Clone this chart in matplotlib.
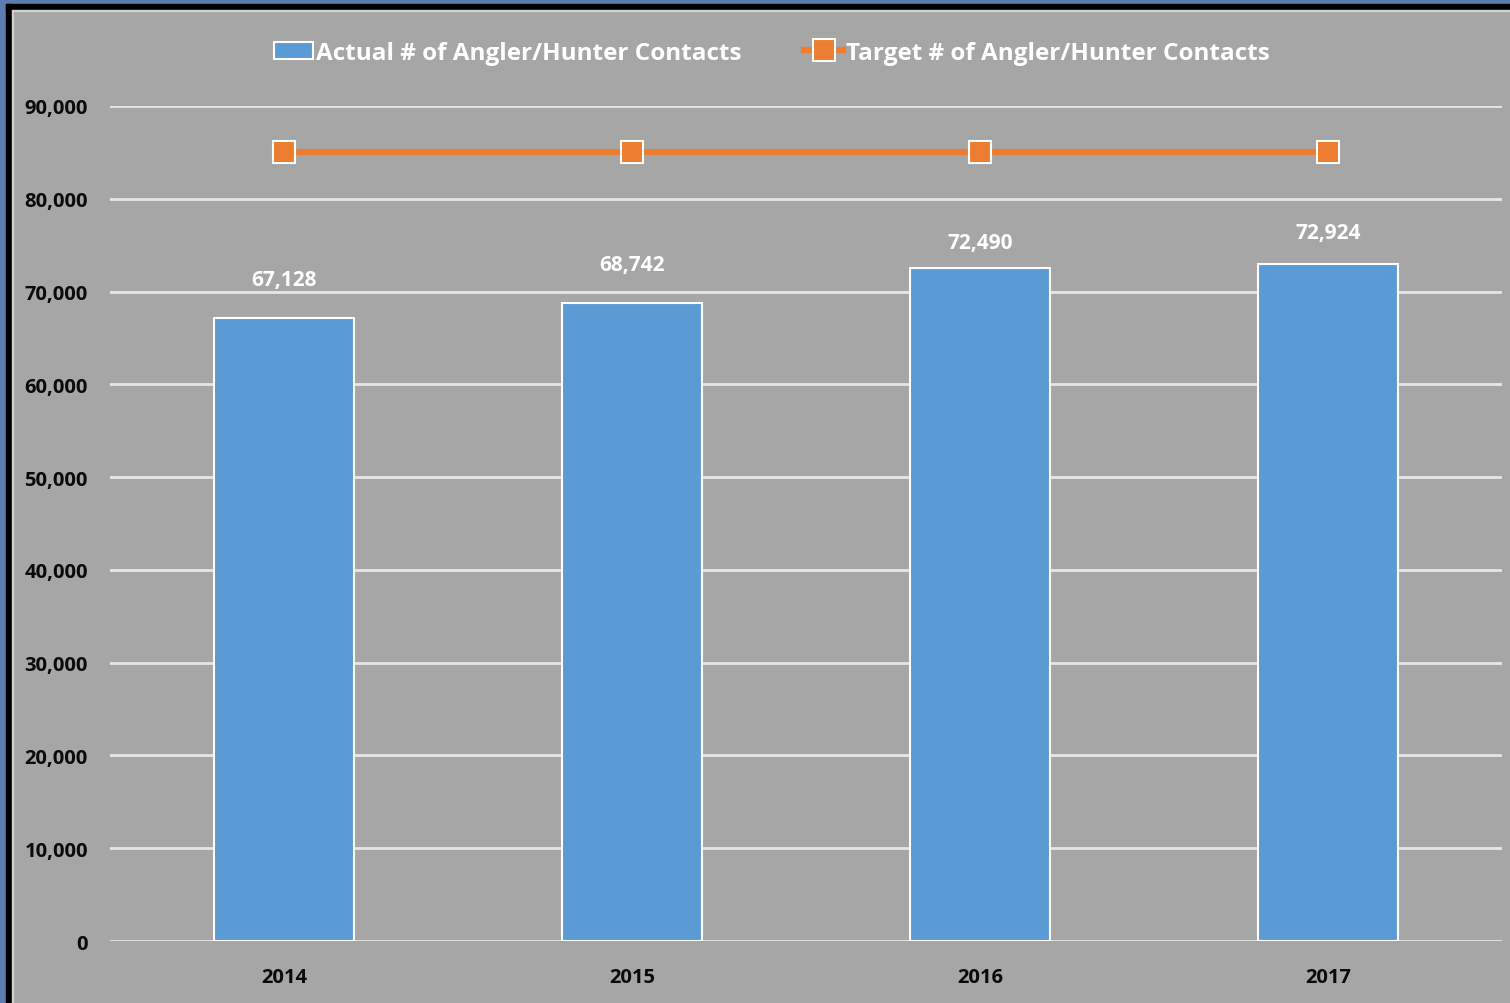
import matplotlib.pyplot as plt
from matplotlib.lines import Line2D
from matplotlib.patches import Patch, Rectangle
from matplotlib.ticker import FuncFormatter

# data
years = ['2014', '2015', '2016', '2017']
actual = [67128, 68742, 72490, 72924]
target = [85000, 85000, 85000, 85000]

# label offsets above bar tops (points), Excel nudges a few of them
label_pad = [28, 28, 19, 23]

bg = '#A6A6A6'
bar_c = '#5B9BD5'
line_c = '#ED7D31'
font = 'Open Sans'

W, H = 1510, 1004
fig = plt.figure(figsize=(W / 100, H / 100), dpi=100)
fig.patch.set_facecolor(bg)

# frame around the chart (blue outer, black inner)
def px_rect(x, y, w, h, color):
    fig.patches.append(Rectangle((x / W, 1 - (y + h) / H), w / W, h / H,
                                 transform=fig.transFigure, color=color,
                                 zorder=0))

px_rect(0, 0, W, 6, '#5B7DB1')
px_rect(0, 0, 6, H, '#5B7DB1')
px_rect(6, 5, W, 6, '#000000')
px_rect(6, 5, 6, H, '#000000')
px_rect(12, 11, W, 1, '#D0D0D0')
px_rect(12, 11, 1, H, '#D0D0D0')

ax = fig.add_axes([110 / W, 1 - 942 / H, 1392 / W, (942 - 107) / H])
ax.set_facecolor(bg)
x = list(range(len(years)))

ax.bar(x, actual, width=0.4, color=bar_c, edgecolor='white', linewidth=1.5,
       zorder=3)
ax.plot(x, target, color=line_c, linewidth=4.5, marker='s', markersize=16,
        markerfacecolor=line_c, markeredgecolor='white', markeredgewidth=1.5,
        zorder=4)

for xi, v, pad in zip(x, actual, label_pad):
    ax.annotate(f'{v:,}', xy=(xi, v), xytext=(0, pad), textcoords='offset points',
                ha='center', va='center', color='white', fontsize=15,
                fontfamily=font, fontweight='bold')

ax.set_xlim(-0.5, len(years) - 0.5)
ax.set_ylim(0, 90000)
ax.set_yticks(range(0, 90001, 10000))
ax.yaxis.set_major_formatter(FuncFormatter(lambda v, p: f'{int(v):,}'))
ax.set_xticks(x)
ax.set_xticklabels(years)
ax.grid(axis='y', color='#E6E6E6', linewidth=2, zorder=0)
for s in ax.spines.values():
    s.set_visible(False)
ax.tick_params(length=0, labelsize=14.5, labelcolor='#0A0A0A')
ax.tick_params(axis='x', pad=19)
ax.tick_params(axis='y', pad=16)
for lab in ax.get_xticklabels() + ax.get_yticklabels():
    lab.set_fontfamily(font)
    lab.set_fontweight('bold')

handles = [
    Patch(facecolor=bar_c, edgecolor='white', linewidth=1.5),
    Line2D([], [], color=line_c, linewidth=4.5, marker='s', markersize=16,
           markerfacecolor=line_c, markeredgecolor='white', markeredgewidth=1.5),
]
labels = ['Actual # of Angler/Hunter Contacts', 'Target # of Angler/Hunter Contacts']
leg = fig.legend(handles, labels, loc='center', bbox_to_anchor=(772 / W, 1 - 54 / H),
                 ncol=2, frameon=False, handlelength=1.6, handletextpad=0.1,
                 columnspacing=2.6,
                 prop={'family': font, 'size': 17.5, 'weight': 'bold'})
for t in leg.get_texts():
    t.set_color('white')

fig.savefig('out.png', dpi=100, facecolor=bg)
